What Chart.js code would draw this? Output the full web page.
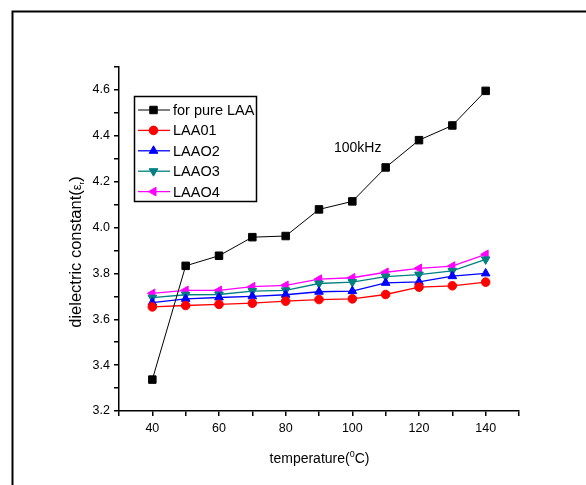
<!DOCTYPE html>
<html>
<head>
<meta charset="utf-8">
<script src="https://cdn.jsdelivr.net/npm/chart.js@4/dist/chart.umd.min.js"></script>
<style>
  html, body { margin: 0; padding: 0; background: #fff; }
  #wrap { width: 586px; height: 485px; }
</style>
</head>
<body>
<div id="wrap"><canvas id="chart" width="586" height="485"></canvas></div>
<script>
// --- Datos ---
const temps = [40, 50, 60, 70, 80, 90, 100, 110, 120, 130, 140];
const pureLAA = [3.337, 3.833, 3.877, 3.958, 3.963, 4.079, 4.114, 4.262, 4.381, 4.445, 4.596];
const laa01 = [3.654, 3.660, 3.665, 3.670, 3.679, 3.686, 3.689, 3.708, 3.740, 3.746, 3.762];
const laao2 = [3.673, 3.689, 3.695, 3.700, 3.707, 3.720, 3.723, 3.759, 3.763, 3.788, 3.800];
const laao3 = [3.694, 3.707, 3.708, 3.723, 3.726, 3.756, 3.762, 3.786, 3.795, 3.811, 3.861];
const laao4 = [3.713, 3.726, 3.726, 3.742, 3.748, 3.775, 3.781, 3.805, 3.822, 3.832, 3.883];
const seriesNames = ['for pure LAA', 'LAA01', 'LAAO2', 'LAAO3', 'LAAO4'];
const freqLabel = '100kHz';

const FONT = '"Liberation Sans", Arial, sans-serif';

function pts(vals) {
  return temps.map((t, i) => ({ x: t, y: vals[i] }));
}

function serie(label, vals, color, style, rot, r) {
  return {
    label: label,
    data: pts(vals),
    borderColor: color,
    backgroundColor: color,
    borderWidth: label === seriesNames[0] ? 1 : 1.3,
    pointStyle: style,
    rotation: rot,
    pointRadius: r,
    pointHoverRadius: r,
    pointBorderWidth: 1,
    pointBorderColor: color,
    pointBackgroundColor: color,
    tension: 0
  };
}

const datasets = [
  serie(seriesNames[0], pureLAA, '#000000', 'rect', 0, 5.3),
  serie(seriesNames[1], laa01, '#ff0000', 'circle', 0, 4.3),
  serie(seriesNames[2], laao2, '#0000ff', 'triangle', 0, 5),
  serie(seriesNames[3], laao3, '#008080', 'triangle', 180, 5),
  serie(seriesNames[4], laao4, '#ff00ff', 'triangle', 270, 5)
];

// --- Textos con subíndice / superíndice ---
function drawParts(ctx, parts, cx, cy) {
  let total = 0;
  parts.forEach(p => { ctx.font = p.size + 'px ' + FONT; p.w = ctx.measureText(p.t).width; total += p.w; });
  let x = cx - total / 2;
  ctx.textBaseline = 'alphabetic';
  ctx.textAlign = 'left';
  parts.forEach(p => {
    ctx.font = p.size + 'px ' + FONT;
    ctx.fillText(p.t, x, cy + (p.dy || 0));
    x += p.w;
  });
}

const extras = {
  id: 'extras',
  afterDraw(chart) {
    const ctx = chart.ctx;
    ctx.save();

    // marco exterior
    ctx.strokeStyle = '#000';
    ctx.lineWidth = 2;
    ctx.beginPath();
    ctx.moveTo(12.5, 485);
    ctx.lineTo(12.5, 11.5);
    ctx.lineTo(586, 11.5);
    ctx.stroke();

    ctx.fillStyle = '#000';

    // titulo eje x
    drawParts(ctx, [
      { t: 'temperature(', size: 14 },
      { t: '0', size: 9, dy: -6 },
      { t: 'C)', size: 14 }
    ], 319.5, 463);

    // titulo eje y
    ctx.save();
    ctx.translate(81, 252);
    ctx.rotate(-Math.PI / 2);
    drawParts(ctx, [
      { t: 'dielectric constant(', size: 16.5 },
      { t: '\u03b5', size: 13 },
      { t: 'r', size: 8, dy: 3 },
      { t: ')', size: 16.5 }
    ], 0, 0);
    ctx.restore();

    // frecuencia
    ctx.font = '14px ' + FONT;
    ctx.textAlign = 'left';
    ctx.textBaseline = 'middle';
    ctx.fillText(freqLabel, 334, 148);

    // leyenda
    ctx.lineWidth = 1.5;
    ctx.strokeStyle = '#000';
    ctx.strokeRect(134.5, 96.5, 122, 105);
    chart.data.datasets.forEach((ds, i) => {
      const y = 110 + i * 20.4;
      ctx.strokeStyle = ds.borderColor;
      ctx.lineWidth = ds.borderWidth;
      ctx.beginPath();
      ctx.moveTo(138, y);
      ctx.lineTo(170, y);
      ctx.stroke();
      ctx.fillStyle = ds.backgroundColor;
      ctx.lineWidth = 1;
      Chart.helpers.drawPoint(ctx, {
        pointStyle: ds.pointStyle,
        rotation: ds.rotation,
        radius: ds.pointRadius,
        borderWidth: 1
      }, 153.5, y);
      ctx.fillStyle = '#000';
      ctx.font = '14.5px ' + FONT;
      ctx.textBaseline = 'middle';
      ctx.fillText(ds.label, 173, y + 1);
    });

    ctx.restore();
  }
};

// --- Grafico ---
new Chart(document.getElementById('chart'), {
  type: 'line',
  data: { datasets: datasets },
  options: {
    responsive: false,
    animation: false,
    events: [],
    layout: { padding: { left: 0, top: 67, right: 67, bottom: 0 } },
    plugins: { legend: { display: false }, tooltip: { enabled: false } },
    scales: {
      x: {
        type: 'linear',
        min: 30,
        max: 150,
        afterFit: s => { s.height = 74; },
        border: { color: '#000', width: 1.5 },
        grid: { drawOnChartArea: false, drawTicks: true, tickLength: 5, color: '#000', lineWidth: 1.5 },
        ticks: {
          stepSize: 10,
          autoSkip: false,
          maxRotation: 0,
          padding: 5,
          color: '#000',
          font: { family: FONT, size: 12.5 },
          callback: v => (v % 20 === 0 ? String(v) : '')
        }
      },
      y: {
        min: 3.2,
        max: 4.7,
        afterFit: s => { s.width = 119; },
        border: { color: '#000', width: 1.5 },
        grid: { drawOnChartArea: false, drawTicks: true, tickLength: 5, color: '#000', lineWidth: 1.5 },
        ticks: {
          stepSize: 0.1,
          autoSkip: false,
          padding: 4,
          color: '#000',
          font: { family: FONT, size: 12.5 },
          callback: v => (Math.round(v * 10) % 2 === 0 ? v.toFixed(1) : '')
        }
      }
    }
  },
  plugins: [extras]
});
</script>
</body>
</html>
